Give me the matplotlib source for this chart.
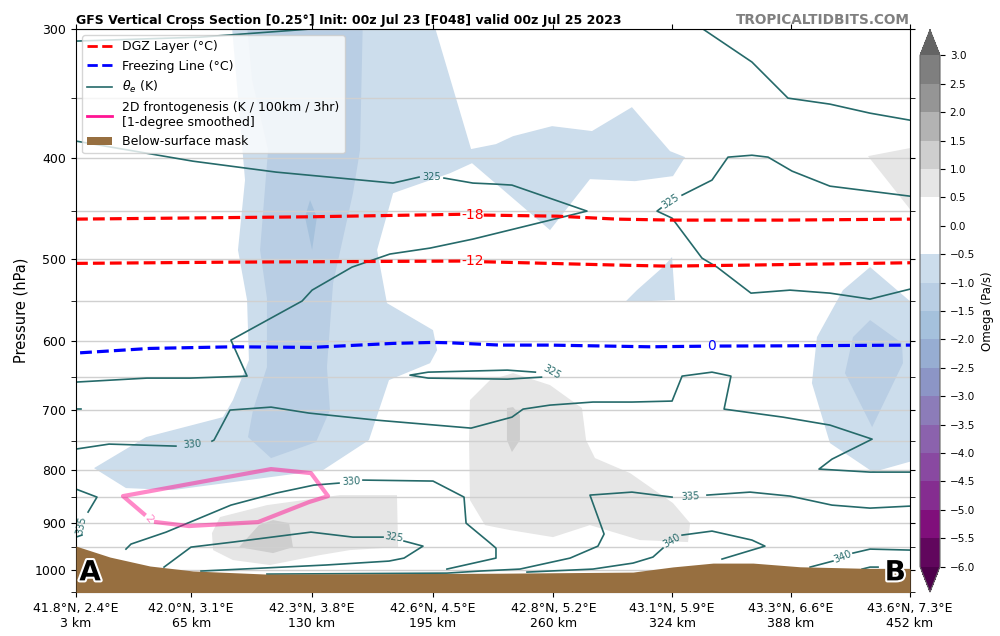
import numpy as np
import matplotlib
matplotlib.use("Agg")
import matplotlib.pyplot as plt
import matplotlib.patheffects as pe
from matplotlib.colors import ListedColormap, BoundaryNorm
from matplotlib.cm import ScalarMappable
from matplotlib.lines import Line2D
from matplotlib.patches import Patch

nan = np.nan

## ========================================================
## 데이터 : 거리(km) / 기압(hPa)
## ========================================================
tick_km = [3, 65, 130, 195, 260, 324, 388, 452]
tick_names = ["41.8°N, 2.4°E", "42.0°N, 3.1°E", "42.3°N, 3.8°E", "42.6°N, 4.5°E",
              "42.8°N, 5.2°E", "43.1°N, 5.9°E", "43.3°N, 6.6°E", "43.6°N, 7.3°E"]
p_major = [300, 400, 500, 600, 700, 800, 900, 1000]
p_minor = [350, 450, 550, 650, 750, 850, 950, 1050]
omega_levels = np.arange(-6.0, 3.01, 0.5)

# 지형 (surface pressure)
terrain_km = [3, 21.3, 42.8, 66.0, 105.8, 231.3, 302.9, 324.4, 346.0, 367.5, 392.8, 428.9, 452]
terrain_hpa = [948, 971.5, 991, 1002, 1009, 1007, 1004.5, 993, 984.6, 984.6, 992.7, 996.2, 996.2]

# DGZ (-18, -12) / freezing line (0)
dgz18_km = [3, 130.1, 210.0, nan, 222.5, 262.0, 294.2, 323.9, 383.6, 452]
dgz18_hpa = [457.9, 455.5, 453.0, nan, 453.8, 454.9, 457.9, 458.9, 458.9, 457.9]
dgz12_km = [3, 87.5, 210.0, nan, 222.7, 294.2, 321.1, 365.9, 452]
dgz12_hpa = [505.3, 503.9, 502.7, nan, 503.5, 507.2, 508.4, 507.2, 504.6]
frz_km = [5.2, 42.8, 87.5, 130.1, 173.7, 195.2, 204.4, 231.3, 258.2, 312.0, 340.6, nan, 349.5, 383.6, 452]
frz_hpa = [616.6, 610.6, 608.4, 609.2, 603.8, 602.5, 603.0, 606.1, 606.1, 608.4, 607.6, nan, 607.4, 607.1, 606.1]

# theta-e 등치선
the320_a_km = [3, 69.8, 128.4, 140]
the320_a_hpa = [308.1, 305.4, 300, 298]
the320_b_km = [336.3, 340.6, 366.9, 386.3, 408.9, 430.5, 452]
the320_b_hpa = [297, 300, 322.8, 349.8, 354.5, 361.7, 367.4]
the325_a_km = [3, 66.0, 110.7, 173.7, 187.7, nan, 201.1, 216.7, 229.1, 237.7, 278.1, 216.7, 193.6,
               172.0, 151.6, 130.1, 124.7, 86.4, 95.1, 64.4, 41.2, 3]
the325_a_hpa = [384.9, 402.5, 412.4, 422.6, 417.0, nan, 417.9, 422.6, 423.6, 424.5, 449.8, 478.7, 488.4,
                494.9, 509.5, 536.3, 549.5, 599.4, 649.4, 652.3, 652.3, 658.1]
the325_b_km = [452, 408.9, 388.5, 375.6, 366.9, 354.0, 345.4, 329.3, nan, 318.0, 315.8, 323.9, 340.0,
               348.1, 366.4, 387.4, 408.9, 430.5, 452]
the325_b_hpa = [435.1, 425.5, 411.5, 398.9, 397.2, 398.9, 419.8, 434.1, nan, 446.7, 449.8, 456.9, 499.4,
                509.5, 539.9, 536.3, 539.9, 547.1, 535.1]
the325_c_km = [253.6, 235.2, 192.6, 182.8, 192.6, 235.2, 250.3]
the325_c_hpa = [650.9, 653.8, 652.3, 648.0, 643.7, 640.8, 643.7]
the325_d_km = [50.4, 64.9, 87.5, 129.5, 152.1, 168.3, nan, 179.6, 189.8, 179.6, 171.5, 137.6, 70.3]
the325_d_hpa = [993.4, 950.2, 939.6, 919.0, 929.3, 929.3, nan, 937.5, 948.1, 973.7, 980.2, 988.8, 1002.2]
the330_a_km = [3, 20.8, 56.8, nan, 76.2, 77.3, 85.9, 108.0, 128.4, 164.5, 215.7, 237.7, 243.7, 258.2,
               281.3, 302.3, 323.9, 329.3, 345.4, 355.6, 351.9, 383.6, 408.9, 431.6, 410.0, 403.0, 430.5, 452]
the330_a_hpa = [763.9, 755.5, 758.9, nan, 750.5, 748.8, 700.4, 695.8, 705.1, 716.2, 729.1, 711.5, 698.9, 692.7,
                688.0, 688.0, 686.5, 649.4, 643.7, 649.4, 698.9, 711.5, 724.2, 747.2, 781.2, 798.7, 804.1, 804.1]
the330_b_km = [3, 5.5]
the330_b_hpa = [699, 699]
the330_c_km = [29.9, 32.6, 51.5, 86.4, 110.7, 131.1, 144.6, nan, 157.5, 195.2, 211.9, 213.0, 225.3,
               229.1, 229.1, 202.7]
the330_c_hpa = [954.4, 943.8, 919.0, 865.4, 842.6, 827.7, 824.0, nan, 818.5, 820.3, 850.1, 900.8, 939.6,
                952.3, 973.7, 997.8]
the335_a_km = [3, 14.3, 9.5, nan, 6.2, 3]
the335_a_hpa = [835.1, 850.1, 878.9, nan, 925.1, 929.3]
the335_b_km = [105.8, 202.7, 220.5, 242.0, 269.0, 284.0, 287.3, 279.7, 302.3, 323.9, nan, 342.7, 365.9,
               387.4, 410.0, 430.5, 452]
the335_b_hpa = [1009, 1006.8, 1002.2, 997.8, 973.7, 948.1, 923.0, 846.3, 840.7, 850.1, nan, 846.3, 840.7,
                848.2, 865.4, 871.2, 867.3]
the340_a_km = [245.8, 281.3, 302.9, 313.6, 319.0, nan, 329.3, 345.4, 366.9, 373.9, 350.8]
the340_a_hpa = [1004.5, 997.8, 984.6, 971.5, 952.3, nan, 925.1, 916.9, 935.4, 948.1, 975.8]
the340_b_km = [398.2, 410.5, nan, 421.3, 430.5, 452]
the340_b_hpa = [993.4, 980.2, nan, 962.9, 954.4, 956.5]
the340_c_km = [426.2, 430.5, 434.8]
the340_c_hpa = [997.8, 993.4, 993.4]

# frontogenesis (2 K/100km/3hr)
fgen_km = [46.1, 63.8, 101.0, 128.4, 138.7, 129.5, 108.0, 28.3, 39.6]
fgen_hpa = [898.7, 906.7, 898.7, 859.6, 848.2, 805.9, 798.7, 848.2, 882.8]

# omega 영역 (level, km, hPa)
omega_a_km = [86.4, 194.1, 215.7, 229.1, 238.3, 259.3, 280.8, 302.3, 322.8, 330.9, 324.4, 303.9, 279.7,
              258.2, 216.2, 204.4, 173.7, 165.1, 170.4, 195.2, 197.4, 193.6, 171.5, 160.7, 136.0, 103.7,
              55.2, 29.9, 12.7, 40.7, 82.1, 87.5, 96.1, 95.1, 90.2, 94.0]
omega_a_hpa = [290, 290, 391.8, 387.5, 380.7, 372.3, 376.4, 356.9, 393.6, 398.9, 416.1, 420.8, 418.9,
               469.2, 404.3, 413.4, 432.2, 490.5, 552.0, 586.2, 612.9, 631.0, 655.2, 748.8, 800.5, 814.9,
               836.9, 833.2, 797.0, 743.8, 711.5, 685.0, 626.7, 548.3, 490.5, 419.8]
omega_b_km = [94.5, 157.5, 155.9, 152.1, 141.4, 138.1, 139.7, 132.2, 108.0, 95.6, 98.3, 105.8, 105.8,
              102.1, 106.4, 97.8]
omega_b_hpa = [290, 290, 392.7, 432.2, 528.0, 636.5, 700.4, 752.2, 779.4, 743.8, 700.4, 636.5, 545.9,
               490.5, 392.7, 336.0]
omega_c_km = [129.0, 132.7, 130.1, 126.3]
omega_c_hpa = [438.9, 455.8, 490.5, 455.8]
omega_d_km = [323.9, 325.5, 298.6, 305.0, 319.0]
omega_d_hpa = [498.2, 548.3, 550.7, 536.3, 509.5]
omega_e_km = [430.5, 455, 455, 432.1, 408.9, 399.2, 401.9, 415.9]
omega_e_hpa = [509.5, 555.5, 782.9, 804.1, 753.8, 659.6, 595.4, 536.3]
omega_f_km = [430.5, 447.7, 448.2, 431.6, 417.0, 421.3]
omega_f_hpa = [573.3, 603.4, 631.0, 727.5, 645.1, 595.4]
omega_g_km = [215.1, 225.9, 238.3, 258.2, 275.4, 277.6, 282.4, 301.3, 324.4, 333.6, 332.5, 306.6, 279.7,
              259.8, 236.7, 223.2, 215.1, 214.6]
omega_g_hpa = [685.0, 655.2, 645.1, 662.5, 697.3, 748.8, 779.4, 805.9, 861.5, 900.8, 939.6, 935.4, 904.8,
               929.3, 914.9, 904.8, 855.8, 748.8]
omega_h_km = [235.0, 238.3, 242.0, 242.0, 237.7, 235.0]
omega_h_hpa = [697.3, 695.8, 708.3, 748.8, 769.0, 748.8]
omega_i_km = [76.2, 80.5, 105.8, 145.1, 175.8, 176.4, 150.5, 134.4, 107.4, 87.5, 76.8]
omega_i_hpa = [921.0, 888.7, 865.4, 846.3, 846.3, 950.2, 956.5, 967.2, 988.8, 978.0, 956.5]
omega_j_km = [90.8, 101.5, 109.1, 117.7, 119.8, 109.1]
omega_j_hpa = [950.2, 904.8, 894.7, 900.8, 950.2, 962.9]
omega_k_km = [429.4, 455, 455]
omega_k_hpa = [398.0, 390.0, 455.0]

omega_areas = [
    (-0.75, omega_a_km, omega_a_hpa), (-1.25, omega_b_km, omega_b_hpa),
    (-1.75, omega_c_km, omega_c_hpa), (-0.75, omega_d_km, omega_d_hpa),
    (-0.75, omega_e_km, omega_e_hpa), (-1.25, omega_f_km, omega_f_hpa),
    (0.75, omega_g_km, omega_g_hpa), (1.25, omega_h_km, omega_h_hpa),
    (0.75, omega_i_km, omega_i_hpa), (1.25, omega_j_km, omega_j_hpa),
    (0.75, omega_k_km, omega_k_hpa),
]

theta_lines = [
    (the320_a_km, the320_a_hpa), (the320_b_km, the320_b_hpa),
    (the325_a_km, the325_a_hpa), (the325_b_km, the325_b_hpa),
    (the325_c_km, the325_c_hpa), (the325_d_km, the325_d_hpa),
    (the330_a_km, the330_a_hpa), (the330_b_km, the330_b_hpa), (the330_c_km, the330_c_hpa),
    (the335_a_km, the335_a_hpa), (the335_b_km, the335_b_hpa),
    (the340_a_km, the340_a_hpa), (the340_b_km, the340_b_hpa), (the340_c_km, the340_c_hpa),
]

# 등치선 라벨 (text, km, hPa, 회전각)
theta_labels = [
    ("325", 194.4, 416.5, 0), ("325", 323.3, 440.0, 33), ("325", 259.3, 643.7, -30),
    ("330", 65.5, 755.5, 4), ("330", 151.0, 820.3, 3), ("325", 174.2, 929.3, -8),
    ("335", 5.6, 904.8, 78), ("335", 333.6, 848.2, 3),
    ("340", 323.9, 937.5, 30), ("340", 415.9, 971.5, 22),
]
temp_labels = [("-18", 216.5, 453.5, "red"), ("-12", 216.5, 503.0, "red"), ("0", 345.0, 607.5, "blue")]

THETA_C = "#256a6a"
TERRAIN_C = "#976f40"
TITLE = "GFS Vertical Cross Section [0.25°] Init: 00z Jul 23 [F048] valid 00z Jul 25 2023"


## ========================================================
## omega 컬러맵 : BuPu(음수) + 흰색 + Greys(양수)
## ========================================================
def omega_cmap():
    bupu = plt.get_cmap("BuPu")
    greys = plt.get_cmap("Greys")
    neg = [bupu(v) for v in np.linspace(0.95, 0.2, 11)]
    pos = [greys(v) for v in [0.18, 0.30, 0.41, 0.50, 0.58]]
    cmap = ListedColormap(neg + ["white", "white"] + pos)
    cmap.set_under(bupu(1.0))
    cmap.set_over(greys(0.68))
    return cmap, BoundaryNorm(omega_levels, cmap.N)


fig = plt.figure(figsize=(10, 6.36), dpi=100)
ax = fig.add_axes([0.076, 0.0692, 0.834, 0.885])
cmap, norm = omega_cmap()

for level, xs, ps in omega_areas:
    ax.fill(xs, ps, color=cmap(norm(level)), lw=0, zorder=1)

for xs, ps in theta_lines:
    ax.plot(xs, ps, color=THETA_C, lw=1.2, zorder=2)
for txt, x, p, rot in theta_labels:
    ax.text(x, p, txt, color=THETA_C, fontsize=7, ha="center", va="center",
            rotation=rot, rotation_mode="anchor", zorder=2)

ax.plot(dgz18_km, dgz18_hpa, color="red", ls="--", lw=2.3, zorder=2.2)
ax.plot(dgz12_km, dgz12_hpa, color="red", ls="--", lw=2.3, zorder=2.2)
ax.plot(frz_km, frz_hpa, color="blue", ls="--", lw=2.3, zorder=2.2)
for txt, x, p, c in temp_labels:
    ax.text(x, p, txt, color=c, fontsize=10, ha="center", va="center", zorder=2.2)

ax.plot(fgen_km, fgen_hpa, color="deeppink", alpha=0.5, lw=3, zorder=2.3)
ax.text(42.3, 893, "2", color="deeppink", alpha=0.5, fontsize=8, rotation=-50,
        ha="center", va="center", zorder=2.3)

ax.fill_between(terrain_km, terrain_hpa, 1100, color=TERRAIN_C, lw=0, zorder=3)
stroke = [pe.withStroke(linewidth=3, foreground="white")]
ax.text(0.004, 0.01, "A", transform=ax.transAxes, fontsize=20, fontweight="bold",
        ha="left", va="bottom", path_effects=stroke, zorder=6)
ax.text(0.995, 0.01, "B", transform=ax.transAxes, fontsize=20, fontweight="bold",
        ha="right", va="bottom", path_effects=stroke, zorder=6)

# 축 설정
ax.set_yscale("log")
ax.set_ylim(1050, 300)
ax.set_xlim(3, 452)
ax.set_yticks(p_major, labels=[str(p) for p in p_major])
ax.set_yticks(p_minor, minor=True)
ax.yaxis.set_minor_formatter(matplotlib.ticker.NullFormatter())
ax.set_xticks(tick_km, labels=[f"{n}\n{k} km" for n, k in zip(tick_names, tick_km)])
ax.tick_params(which="both", top=True, right=True, labelsize=9)
ax.tick_params(which="minor", length=3.5)
ax.set_axisbelow("line")
ax.yaxis.grid(True, which="both", color="#d0d0d0", lw=1)
ax.set_ylabel("Pressure (hPa)", fontsize=10.5)
ax.set_title(TITLE, loc="left", fontsize=9.0, fontweight="bold", pad=4)
ax.set_title("TROPICALTIDBITS.COM", loc="right", fontsize=9.8, fontweight="bold",
             color="gray", pad=4)

handles = [
    Line2D([], [], color="red", ls="--", lw=2),
    Line2D([], [], color="blue", ls="--", lw=2),
    Line2D([], [], color=THETA_C, lw=1.2),
    Line2D([], [], color="deeppink", lw=2),
    Patch(facecolor=TERRAIN_C),
]
names = ["DGZ Layer (°C)", "Freezing Line (°C)", r"$\theta_e$ (K)",
         "2D frontogenesis (K / 100km / 3hr)\n[1-degree smoothed]", "Below-surface mask"]
leg = ax.legend(handles, names, loc="upper left", fontsize=9)
leg.set_zorder(7)

# 컬러바
cax = fig.add_axes([0.920, 0.069, 0.020, 0.884])
cb = fig.colorbar(ScalarMappable(norm=norm, cmap=cmap), cax=cax, extend="both", ticks=omega_levels)
cb.outline.set_edgecolor("0.4")
cb.ax.tick_params(labelsize=7.5)
cb.set_label("Omega (Pa/s)", fontsize=8.5)

fig.savefig("out.png", dpi=100)
